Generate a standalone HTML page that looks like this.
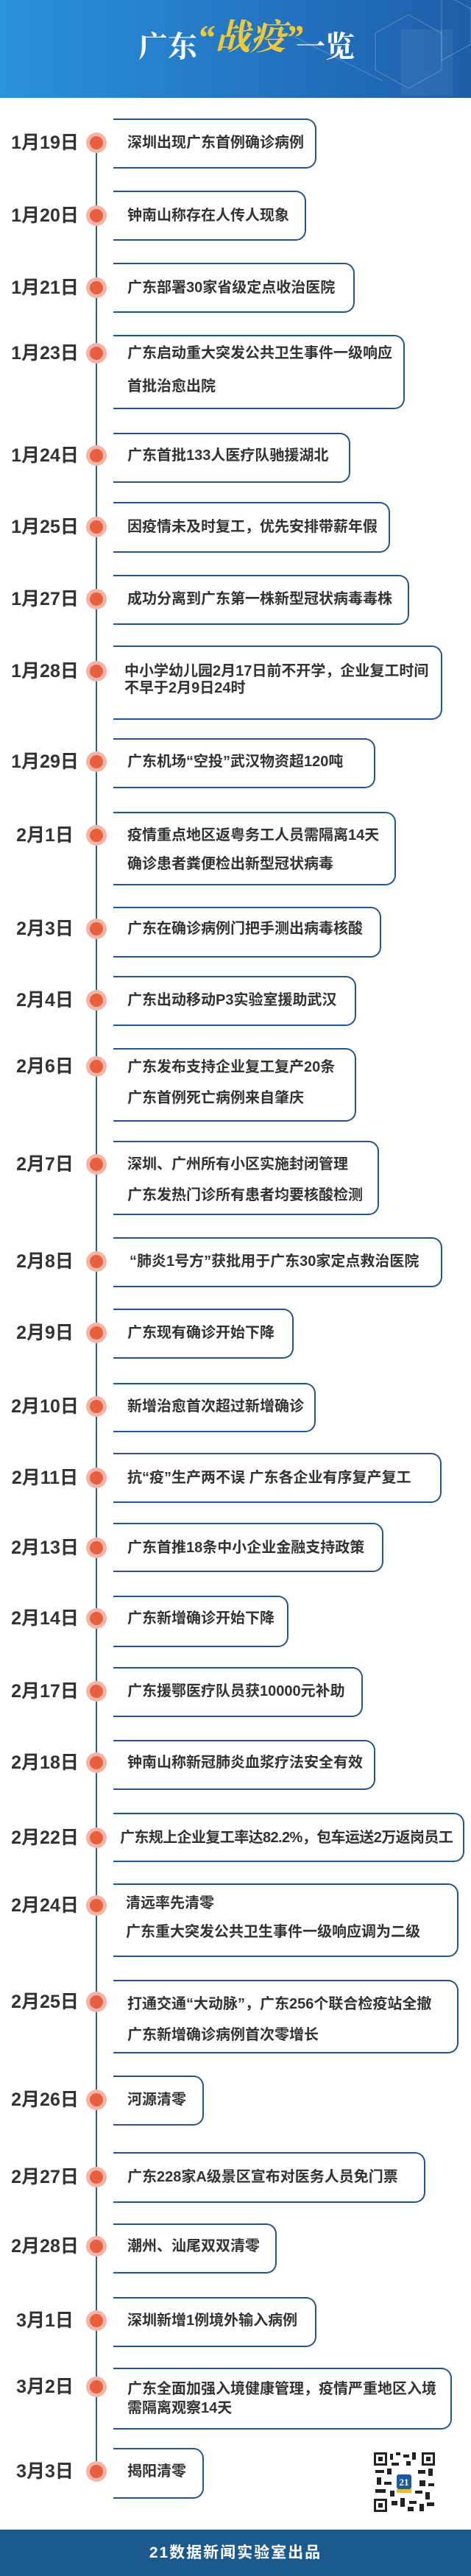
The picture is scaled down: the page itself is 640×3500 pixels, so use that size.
<!DOCTYPE html>
<html><head><meta charset="utf-8">
<style>
*{margin:0;padding:0;box-sizing:border-box}
body{width:640px;height:3500px;position:relative;background:#fff;overflow:hidden;font-family:"Liberation Sans","Noto Sans CJK SC",sans-serif;}
.hd{position:absolute;left:0;top:0;width:640px;height:133px;background:linear-gradient(90deg,#2a92da 0%,#2478c4 50%,#1f5ea8 100%);overflow:hidden}
.ln{position:absolute;left:130px;top:194px;width:2px;height:3164px;background:#2d5f93}
.b{position:absolute;left:154px;border:2px solid #24558a;border-left:none;border-radius:0 14px 14px 0}
.d{position:absolute;left:8px;width:106px;text-align:center;font-size:25px;font-weight:bold;color:#333;line-height:28px;font-family:"Liberation Sans","Noto Sans CJK SC",sans-serif}
.c{position:absolute;left:117px;width:28px;height:28px;border-radius:50%;background:#f3b5a8}
.c::after{content:"";position:absolute;left:5px;top:5px;width:18px;height:18px;border-radius:50%;background:#e8603f}
.t{position:absolute;left:173px;font-size:20px;font-weight:bold;color:#333;line-height:24px;white-space:nowrap}
.ft{position:absolute;left:0;top:3437px;width:640px;height:63px;background:#1c5a8e;color:#fff;font-size:21px;font-weight:bold;text-align:center;line-height:63px;letter-spacing:2px}
</style></head><body>
<div class="hd">
<svg width="640" height="133" style="position:absolute;left:0;top:0">
<g fill="none" stroke="rgba(255,255,255,0.25)" stroke-width="1">
<polygon points="555,20 600,45 600,95 555,120 510,95 510,45"/>
<polygon points="600,-10 640,12 640,60 600,82"/>
<line x1="380" y1="40" x2="520" y2="110"/>
</g>
<rect x="545" y="40" width="70" height="90" fill="rgba(255,255,255,0.06)"/>
</svg>
<div style="position:absolute;left:188px;top:40px;font-family:'Liberation Serif','Noto Serif CJK SC',serif;font-size:40px;font-weight:bold;color:#fff;line-height:48px">广东</div>
<div style="position:absolute;left:268px;top:22px;font-family:'Liberation Serif','Noto Serif CJK SC',serif;font-size:48px;font-weight:bold;color:#f0c93a;line-height:60px;font-style:italic">“战疫”</div>
<div style="position:absolute;left:402px;top:40px;font-family:'Liberation Serif','Noto Serif CJK SC',serif;font-size:40px;font-weight:bold;color:#fff;line-height:48px">一览</div>
</div>
<div class="ln"></div>

<div class="b" style="top:161px;height:68px;width:276px"></div><div class="d" style="top:180px">1月19日</div><div class="c" style="top:180px"></div><div class="t" style="top:182px">深圳出现广东首例确诊病例</div>
<div class="b" style="top:259px;height:68px;width:262px"></div><div class="d" style="top:279px">1月20日</div><div class="c" style="top:279px"></div><div class="t" style="top:281px">钟南山称存在人传人现象</div>
<div class="b" style="top:357px;height:68px;width:328px"></div><div class="d" style="top:377px">1月21日</div><div class="c" style="top:377px"></div><div class="t" style="top:379px">广东部署30家省级定点收治医院</div>
<div class="b" style="top:455px;height:101px;width:396px"></div><div class="d" style="top:466px">1月23日</div><div class="c" style="top:466px"></div><div class="t" style="top:468px">广东启动重大突发公共卫生事件一级响应</div><div class="t" style="top:513px">首批治愈出院</div>
<div class="b" style="top:588px;height:68px;width:322px"></div><div class="d" style="top:605px">1月24日</div><div class="c" style="top:605px"></div><div class="t" style="top:607px">广东首批133人医疗队驰援湖北</div>
<div class="b" style="top:682px;height:69px;width:376px"></div><div class="d" style="top:702px">1月25日</div><div class="c" style="top:702px"></div><div class="t" style="top:704px">因疫情未及时复工，优先安排带薪年假</div>
<div class="b" style="top:781px;height:68px;width:402px"></div><div class="d" style="top:800px">1月27日</div><div class="c" style="top:800px"></div><div class="t" style="top:802px">成功分离到广东第一株新型冠状病毒毒株</div>
<div class="b" style="top:877px;height:101px;width:447px"></div><div class="d" style="top:898px">1月28日</div><div class="c" style="top:898px"></div><div class="t" style="top:900px;left:169px">中小学幼儿园2月17日前不开学，企业复工时间</div><div class="t" style="top:923px;left:169px">不早于2月9日24时</div>
<div class="b" style="top:1003px;height:68px;width:356px"></div><div class="d" style="top:1021px">1月29日</div><div class="c" style="top:1021px"></div><div class="t" style="top:1023px">广东机场“空投”武汉物资超120吨</div>
<div class="b" style="top:1103px;height:100px;width:384px"></div><div class="d" style="top:1121px">2月1日</div><div class="c" style="top:1121px"></div><div class="t" style="top:1123px">疫情重点地区返粤务工人员需隔离14天</div><div class="t" style="top:1162px">确诊患者粪便检出新型冠状病毒</div>
<div class="b" style="top:1232px;height:69px;width:364px"></div><div class="d" style="top:1248px">2月3日</div><div class="c" style="top:1248px"></div><div class="t" style="top:1250px">广东在确诊病例门把手测出病毒核酸</div>
<div class="b" style="top:1326px;height:68px;width:330px"></div><div class="d" style="top:1345px">2月4日</div><div class="c" style="top:1345px"></div><div class="t" style="top:1347px">广东出动移动P3实验室援助武汉</div>
<div class="b" style="top:1424px;height:100px;width:330px"></div><div class="d" style="top:1435px">2月6日</div><div class="c" style="top:1435px"></div><div class="t" style="top:1438px">广东发布支持企业复工复产20条</div><div class="t" style="top:1480px">广东首例死亡病例来自肇庆</div>
<div class="b" style="top:1550px;height:101px;width:361px"></div><div class="d" style="top:1568px">2月7日</div><div class="c" style="top:1568px"></div><div class="t" style="top:1570px">深圳、广州所有小区实施封闭管理</div><div class="t" style="top:1612px">广东发热门诊所有患者均要核酸检测</div>
<div class="b" style="top:1681px;height:68px;width:447px"></div><div class="d" style="top:1700px">2月8日</div><div class="c" style="top:1700px"></div><div class="t" style="top:1702px;left:176px">“肺炎1号方”获批用于广东30家定点救治医院</div>
<div class="b" style="top:1778px;height:68px;width:245px"></div><div class="d" style="top:1797px">2月9日</div><div class="c" style="top:1797px"></div><div class="t" style="top:1799px">广东现有确诊开始下降</div>
<div class="b" style="top:1879px;height:67px;width:275px"></div><div class="d" style="top:1897px">2月10日</div><div class="c" style="top:1897px"></div><div class="t" style="top:1899px">新增治愈首次超过新增确诊</div>
<div class="b" style="top:1974px;height:68px;width:446px"></div><div class="d" style="top:1994px">2月11日</div><div class="c" style="top:1994px"></div><div class="t" style="top:1996px">抗“疫”生产两不误 广东各企业有序复产复工</div>
<div class="b" style="top:2069px;height:67px;width:367px"></div><div class="d" style="top:2089px">2月13日</div><div class="c" style="top:2089px"></div><div class="t" style="top:2091px">广东首推18条中小企业金融支持政策</div>
<div class="b" style="top:2168px;height:70px;width:238px"></div><div class="d" style="top:2185px">2月14日</div><div class="c" style="top:2185px"></div><div class="t" style="top:2187px">广东新增确诊开始下降</div>
<div class="b" style="top:2265px;height:68px;width:339px"></div><div class="d" style="top:2284px">2月17日</div><div class="c" style="top:2284px"></div><div class="t" style="top:2286px">广东援鄂医疗队员获10000元补助</div>
<div class="b" style="top:2364px;height:68px;width:356px"></div><div class="d" style="top:2381px">2月18日</div><div class="c" style="top:2381px"></div><div class="t" style="top:2383px">钟南山称新冠肺炎血浆疗法安全有效</div>
<div class="b" style="top:2463px;height:67px;width:477px"></div><div class="d" style="top:2483px">2月22日</div><div class="c" style="top:2483px"></div><div class="t" style="top:2485px;left:163px;letter-spacing:-0.6px">广东规上企业复工率达82.2%，包车运送2万返岗员工</div>
<div class="b" style="top:2559px;height:100px;width:469px"></div><div class="d" style="top:2575px">2月24日</div><div class="c" style="top:2575px"></div><div class="t" style="top:2574px;left:171px">清远率先清零</div><div class="t" style="top:2613px;left:171px">广东重大突发公共卫生事件一级响应调为二级</div>
<div class="b" style="top:2690px;height:100px;width:469px"></div><div class="d" style="top:2706px">2月25日</div><div class="c" style="top:2706px"></div><div class="t" style="top:2711px">打通交通“大动脉”，广东256个联合检疫站全撤</div><div class="t" style="top:2753px">广东新增确诊病例首次零增长</div>
<div class="b" style="top:2820px;height:68px;width:123px"></div><div class="d" style="top:2839px">2月26日</div><div class="c" style="top:2839px"></div><div class="t" style="top:2841px">河源清零</div>
<div class="b" style="top:2924px;height:69px;width:424px"></div><div class="d" style="top:2944px">2月27日</div><div class="c" style="top:2944px"></div><div class="t" style="top:2946px">广东228家A级景区宣布对医务人员免门票</div>
<div class="b" style="top:3021px;height:68px;width:222px"></div><div class="d" style="top:3038px">2月28日</div><div class="c" style="top:3038px"></div><div class="t" style="top:3040px">潮州、汕尾双双清零</div>
<div class="b" style="top:3121px;height:68px;width:276px"></div><div class="d" style="top:3139px">3月1日</div><div class="c" style="top:3139px"></div><div class="t" style="top:3141px">深圳新增1例境外输入病例</div>
<div class="b" style="top:3217px;height:84px;width:460px"></div><div class="d" style="top:3229px">3月2日</div><div class="c" style="top:3229px"></div><div class="t" style="top:3234px">广东全面加强入境健康管理，疫情严重地区入境</div><div class="t" style="top:3260px">需隔离观察14天</div>
<div class="b" style="top:3326px;height:69px;width:123px"></div><div class="d" style="top:3344px">3月3日</div><div class="c" style="top:3344px"></div><div class="t" style="top:3346px">揭阳清零</div>

<svg style="position:absolute;left:508px;top:3332px" width="83" height="81" viewBox="0 0 83 81">
<rect width="83" height="81" fill="#fff"/>
<g fill="#222">
<rect x="0" y="0" width="18" height="18"/><rect x="65" y="0" width="18" height="18"/><rect x="0" y="63" width="18" height="18"/>
<rect x="22" y="2" width="4" height="8"/><rect x="30" y="0" width="6" height="4"/><rect x="40" y="3" width="8" height="4"/><rect x="52" y="0" width="5" height="10"/>
<rect x="24" y="14" width="10" height="4"/><rect x="44" y="12" width="6" height="6"/><rect x="2" y="24" width="12" height="4"/><rect x="18" y="22" width="6" height="8"/>
<rect x="60" y="24" width="10" height="5"/><rect x="74" y="22" width="6" height="10"/><rect x="4" y="34" width="6" height="10"/><rect x="14" y="40" width="10" height="4"/>
<rect x="62" y="38" width="8" height="8"/><rect x="74" y="42" width="8" height="4"/><rect x="2" y="50" width="14" height="5"/><rect x="22" y="52" width="6" height="8"/>
<rect x="56" y="52" width="10" height="4"/><rect x="70" y="54" width="6" height="10"/><rect x="24" y="66" width="8" height="6"/><rect x="36" y="62" width="6" height="12"/>
<rect x="48" y="66" width="10" height="4"/><rect x="62" y="70" width="6" height="10"/><rect x="72" y="68" width="10" height="5"/><rect x="46" y="74" width="8" height="6"/>
</g>
<g fill="#fff"><rect x="3" y="3" width="12" height="12"/><rect x="68" y="3" width="12" height="12"/><rect x="3" y="66" width="12" height="12"/></g>
<g fill="#222"><rect x="6" y="6" width="6" height="6"/><rect x="71" y="6" width="6" height="6"/><rect x="6" y="69" width="6" height="6"/></g>
<rect x="31" y="30" width="20" height="20" rx="3" fill="#1c5aa0"/>
<rect x="31" y="50" width="20" height="5" fill="#e8b93a"/>
<text x="41" y="45" font-size="13" font-weight="bold" fill="#fff" text-anchor="middle" font-family="Liberation Serif,serif">21</text>
</svg>

<div class="ft">21数据新闻实验室出品</div>
</body></html>
